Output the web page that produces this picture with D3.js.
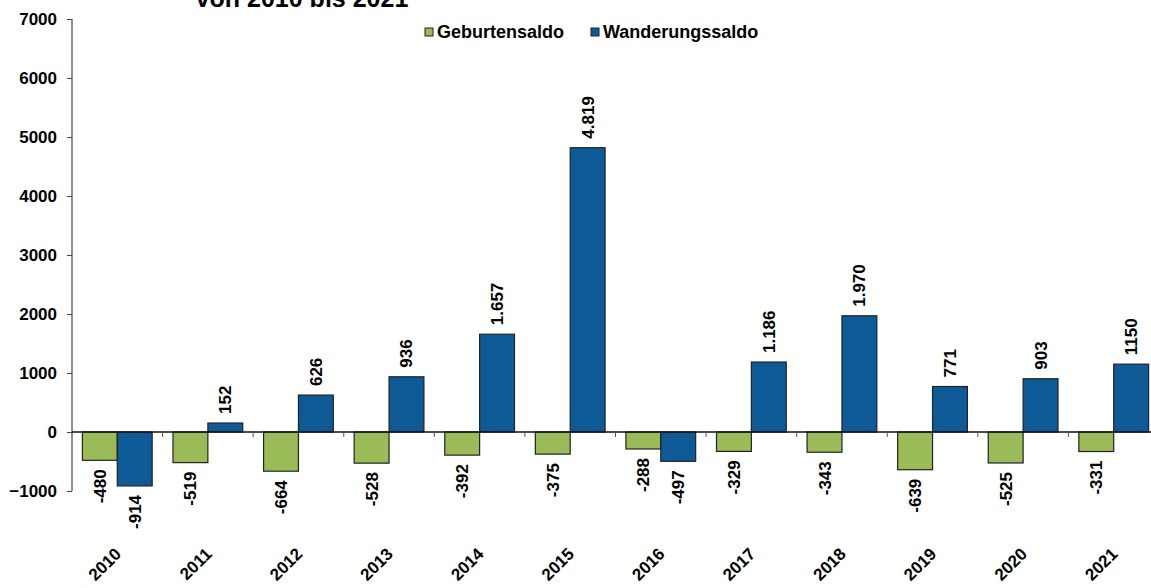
<!DOCTYPE html>
<html>
<head>
<meta charset="utf-8">
<script src="https://cdn.jsdelivr.net/npm/d3@7"></script>
<style>
  body { margin: 0; background: #fff; }
  svg { display: block; font-family: "Liberation Sans", Arial, sans-serif; font-weight: bold; }
</style>
</head>
<body>
<svg></svg>
<script>
const years = ["2010", "2011", "2012", "2013", "2014", "2015", "2016", "2017", "2018", "2019", "2020", "2021"];
const geburten = [-480, -519, -664, -528, -392, -375, -288, -329, -343, -639, -525, -331];
const wanderung = [-914, 152, 626, 936, 1657, 4819, -497, 1186, 1970, 771, 903, 1150];
const geburtenLabels = ["-480", "-519", "-664", "-528", "-392", "-375", "-288", "-329", "-343", "-639", "-525", "-331"];
const wanderungLabels = ["-914", "152", "626", "936", "1.657", "4.819", "-497", "1.186", "1.970", "771", "903", "1150"];
const series = ["Geburtensaldo", "Wanderungssaldo"];
const yTicks = [-1000, 0, 1000, 2000, 3000, 4000, 5000, 6000, 7000];

const width = 1151;
const height = 588;
const svg = d3.select("svg")
    .attr("width", width)
    .attr("height", height);

const margin = { top: 19, right: 0, bottom: 97, left: 72 };
const chartWidth = 1087;
const chartHeight = height - margin.top - margin.bottom;

const colors = d3.scaleOrdinal().domain(series).range(["#9bbb59", "#0e5a96"]);

const x = d3.scaleBand()
    .domain(years)
    .range([0, chartWidth])
    .paddingInner(0.23)
    .paddingOuter(0.115);

const sub = d3.scaleBand()
    .domain(series)
    .range([0, x.bandwidth()]);

const y = d3.scaleLinear()
    .domain([-1000, 7000])
    .range([chartHeight, 0]);

const g = svg.append("g")
    .attr("transform", `translate(${margin.left},${margin.top})`);

// title (only the lower part is visible in the original)
svg.append("text")
    .attr("x", 302)
    .attr("y", 7)
    .attr("text-anchor", "middle")
    .style("font-size", "25px")
    .text("von 2010 bis 2021");

// y axis
const yAxis = g.append("g")
    .call(d3.axisLeft(y).tickValues(yTicks).tickSize(5).tickPadding(10).tickFormat(d3.format("d")));
yAxis.select(".domain").attr("stroke", "#222").attr("d", `M0,${y(7000)}V${y(-1000)}`);
yAxis.selectAll(".tick line").attr("stroke", "#444");
yAxis.selectAll("text")
    .attr("fill", "#000")
    .style("font-size", "17px")
    .style("font-weight", "bold")
    .style("font-family", "Liberation Sans, Arial, sans-serif");

const rows = years.map((yr, i) => ({
    year: yr,
    values: [
        { key: series[0], value: geburten[i], label: geburtenLabels[i] },
        { key: series[1], value: wanderung[i], label: wanderungLabels[i] }
    ]
}));

const groups = g.selectAll(".year")
    .data(rows)
    .join("g")
    .attr("transform", d => `translate(${x(d.year)},0)`);

groups.selectAll("rect")
    .data(d => d.values)
    .join("rect")
    .attr("x", d => sub(d.key))
    .attr("width", sub.bandwidth())
    .attr("y", d => y(Math.max(0, d.value)))
    .attr("height", d => Math.abs(y(d.value) - y(0)))
    .attr("fill", d => colors(d.key))
    .attr("stroke", "#222")
    .attr("stroke-width", 1.2);

groups.selectAll(".val")
    .data(d => d.values)
    .join("text")
    .attr("class", "val")
    .attr("transform", d => {
        const cx = sub(d.key) + sub.bandwidth() / 2 + 6;
        const yy = d.value >= 0 ? y(d.value) - 9 : y(d.value) + 9;
        return `translate(${cx},${yy}) rotate(-90)`;
    })
    .attr("text-anchor", d => d.value >= 0 ? "start" : "end")
    .style("font-size", "17px")
    .text(d => d.label);

// x axis line at zero with ticks between categories
const step = x.step();
g.append("line")
    .attr("x1", 0)
    .attr("x2", chartWidth)
    .attr("y1", y(0))
    .attr("y2", y(0))
    .attr("stroke", "#111")
    .attr("stroke-width", 1.3);

g.selectAll(".xtick")
    .data(years.slice(1))
    .join("line")
    .attr("class", "xtick")
    .attr("x1", d => x(d) - x.paddingInner() * step / 2)
    .attr("x2", d => x(d) - x.paddingInner() * step / 2)
    .attr("y1", y(0))
    .attr("y2", y(0) + 5)
    .attr("stroke", "#555");

// year labels at the bottom
g.selectAll(".year-label")
    .data(years)
    .join("text")
    .attr("class", "year-label")
    .attr("transform", d => `translate(${x(d) + x.bandwidth() / 2 + 5},${chartHeight + 64}) rotate(-45)`)
    .attr("text-anchor", "end")
    .style("font-size", "17px")
    .text(d => d);

// legend
const legend = svg.append("g").attr("transform", "translate(425,0)");
const legendX = [0, 166];
series.forEach((s, i) => {
    const lg = legend.append("g").attr("transform", `translate(${legendX[i]},0)`);
    lg.append("rect")
        .attr("x", 0).attr("y", 28)
        .attr("width", 8).attr("height", 8)
        .attr("fill", colors(s))
        .attr("stroke", "#222");
    lg.append("text")
        .attr("x", 12).attr("y", 38)
        .style("font-size", "18px")
        .text(s);
});
</script>
</body>
</html>
